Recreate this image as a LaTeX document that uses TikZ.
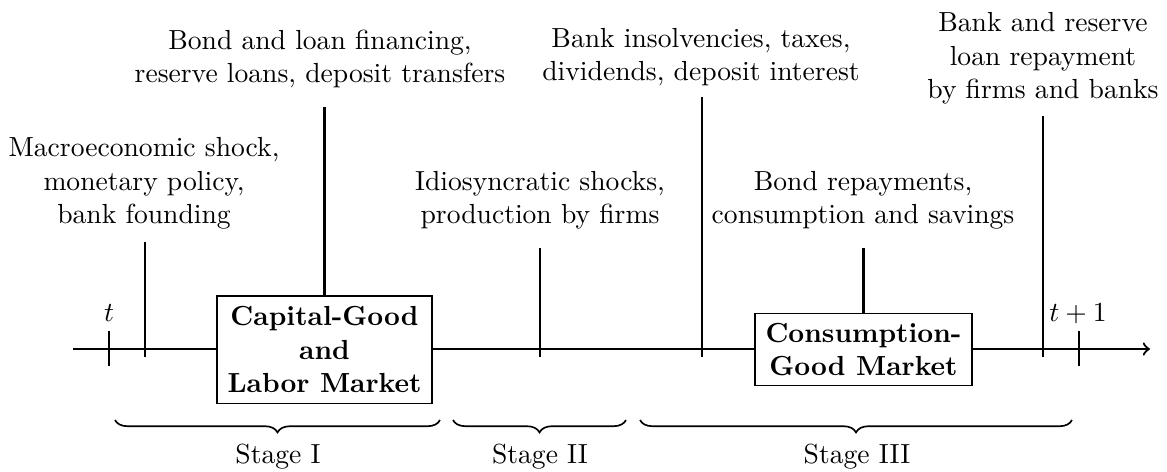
\documentclass[tikz,border=0pt]{standalone}
\usetikzlibrary{decorations.pathreplacing}
\begin{document}
\begin{tikzpicture}[x=0.3623pt,y=-0.3623pt,
  lbl/.style={align=center,inner sep=0pt,anchor=south},
  evline/.style={thick},
  mbox/.style={draw,fill=white,align=center,inner sep=0pt,font=\bfseries},
  stagebrace/.style={decorate,decoration={brace,mirror,amplitude=4.5pt},semithick},
  baselbl/.style={anchor=base,inner sep=0pt}]
\useasboundingbox (0,0) rectangle (1167,471);
% time axis
\coordinate (ax0) at (73,349);
\coordinate (ax1) at (1150,349);
\draw[thick,->] (ax0) -- (ax1);
% period ticks
\coordinate (ta) at (109,331);
\coordinate (tb) at (109,366);
\coordinate (ua) at (1079,331);
\coordinate (ub) at (1079,366);
\draw[evline] (ta) -- (tb);
\draw[evline] (ua) -- (ub);
\node[baselbl] (tlab) at (109,321) {$t$};
\node[baselbl] (ulab) at (1078,321) {$t+1$};
% boxes
\node[mbox,minimum width=77.9pt,minimum height=38.8pt] (capbox) at (324.5,349.5)
  {Capital-Good\\and\\Labor Market};
\node[mbox,minimum width=78.6pt,minimum height=26.4pt] (conbox) at (863.5,349.5)
  {Consumption-\\Good Market};
% event labels
\node[lbl] (macro) at (144,229.4) {Macroeconomic shock,\\monetary policy,\\bank founding};
\node[lbl] (bond) at (320,88.4) {Bond and loan financing,\\reserve loans, deposit transfers};
\node[lbl] (idio) at (540,230) {Idiosyncratic shocks,\\production by firms};
\node[lbl] (bankins) at (701,86.4) {Bank insolvencies, taxes,\\dividends, deposit interest};
\node[lbl] (bondrep) at (863,230) {Bond repayments,\\consumption and savings};
\node[lbl] (bankres) at (1043,104.4) {Bank and reserve\\loan repayment\\by firms and banks};
% event lines
\coordinate (m1) at (145,242);  \coordinate (m2) at (145,357);
\coordinate (b1) at (324.5,107);
\coordinate (i1) at (540,248);  \coordinate (i2) at (540,357);
\coordinate (k1) at (702,97);   \coordinate (k2) at (702,357);
\coordinate (r1) at (863.5,248);
\coordinate (s1) at (1043,116); \coordinate (s2) at (1043,357);
\draw[evline] (m1) -- (m2);
\draw[evline] (b1) -- (capbox.north);
\draw[evline] (i1) -- (i2);
\draw[evline] (k1) -- (k2);
\draw[evline] (r1) -- (conbox.north);
\draw[evline] (s1) -- (s2);
% stage braces
\coordinate (A1) at (115,420); \coordinate (A2) at (440,420);
\coordinate (B1) at (453,420); \coordinate (B2) at (626,420);
\coordinate (C1) at (640,420); \coordinate (C2) at (1072,420);
\draw[stagebrace] (A1) -- (A2);
\draw[stagebrace] (B1) -- (B2);
\draw[stagebrace] (C1) -- (C2);
\node[baselbl] (s1lab) at (278,463) {Stage I};
\node[baselbl] (s2lab) at (540,463) {Stage II};
\node[baselbl] (s3lab) at (857,463) {Stage III};
\end{tikzpicture}
\end{document}
